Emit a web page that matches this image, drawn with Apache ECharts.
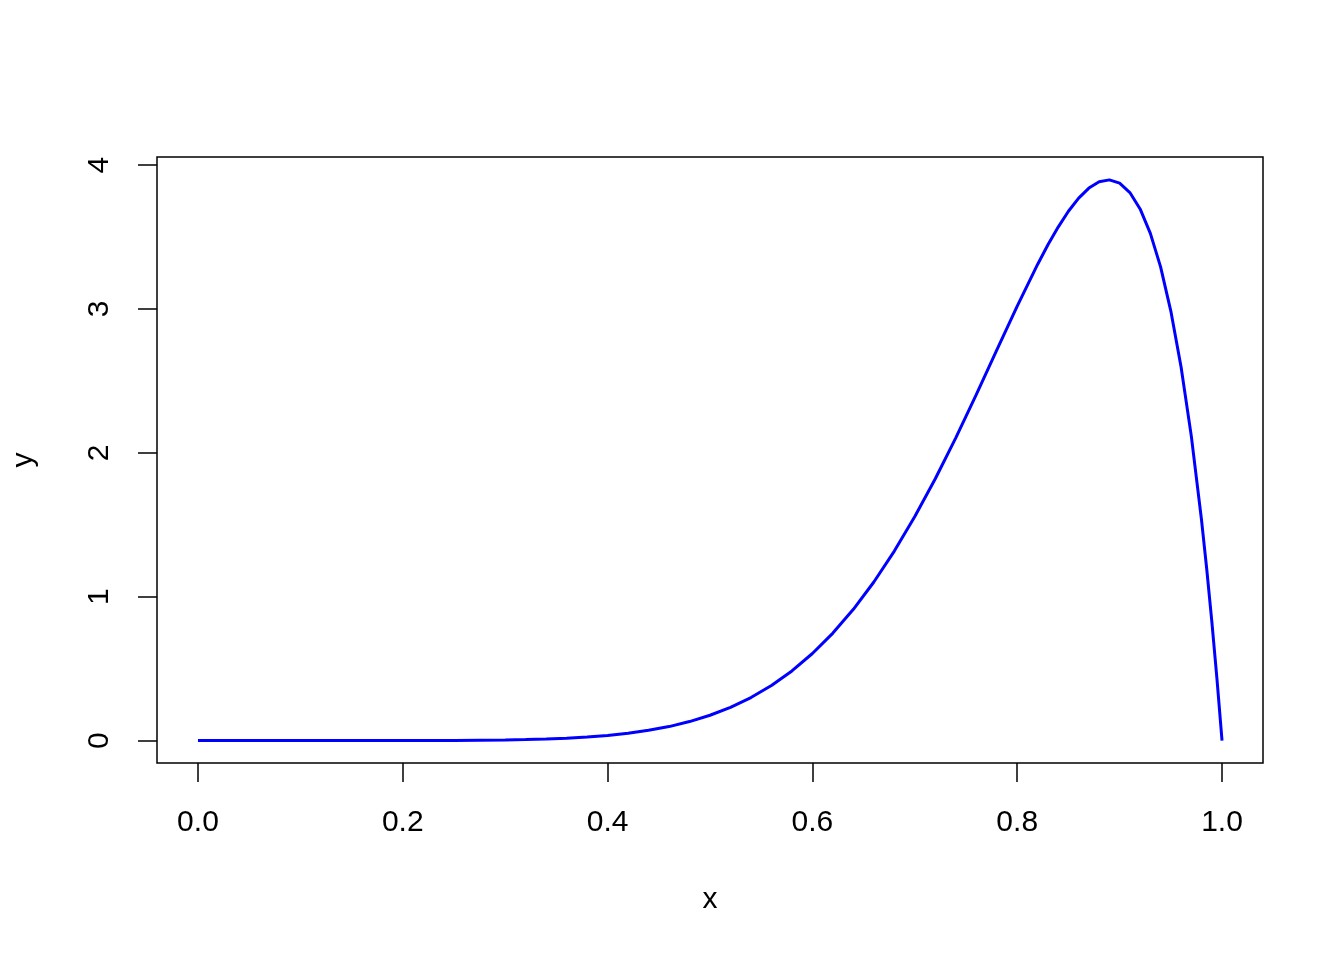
<!DOCTYPE html>
<html>
<head>
<meta charset="utf-8">
<script src="https://cdn.jsdelivr.net/npm/echarts@6/dist/echarts.min.js"></script>
<style>
  html, body { margin: 0; padding: 0; background: #fff; }
  #chart { width: 1344px; height: 960px; }
</style>
</head>
<body>
<div id="chart"></div>
<script>
// values
const xs = [0, 0.1, 0.2, 0.25, 0.3, 0.32, 0.34, 0.36, 0.38, 0.4, 0.42, 0.44, 0.46, 0.48,
  0.5, 0.52, 0.54, 0.56, 0.58, 0.6, 0.62, 0.64, 0.66, 0.68, 0.7, 0.72, 0.74, 0.76,
  0.78, 0.8, 0.82, 0.83, 0.84, 0.85, 0.86, 0.87, 0.88, 0.89, 0.9, 0.91, 0.92, 0.93,
  0.94, 0.95, 0.96, 0.97, 0.98, 0.985, 0.99, 0.995, 1.0];
const ys = [0, 0, 0.0002, 0.001, 0.004, 0.007, 0.011, 0.016, 0.024, 0.035, 0.051, 0.071, 0.097, 0.132,
  0.176, 0.231, 0.299, 0.383, 0.484, 0.605, 0.747, 0.912, 1.102, 1.317, 1.557, 1.82, 2.104, 2.404,
  2.713, 3.02, 3.311, 3.446, 3.569, 3.679, 3.77, 3.84, 3.884, 3.897, 3.874, 3.809, 3.695, 3.525,
  3.292, 2.985, 2.597, 2.116, 1.531, 1.196, 0.83, 0.432, 0];
const xTicks = [0, 0.2, 0.4, 0.6, 0.8, 1.0];
const yTicks = [0, 1, 2, 3, 4];

const font = "Liberation Sans, Arial, sans-serif";
const chart = echarts.init(document.getElementById("chart"));

chart.setOption({
  animation: false,
  backgroundColor: "#fff",
  grid: {
    left: 157,
    right: 81,
    top: 157,
    bottom: 197,
    show: true,
    borderColor: "#000",
    borderWidth: 1.5,
  },
  xAxis: {
    type: "value",
    min: -0.04,
    max: 1.04,
    name: "x",
    nameLocation: "middle",
    nameGap: 122,
    nameTextStyle: { color: "#000", fontSize: 30, fontFamily: font },
    axisLine: { show: false, onZero: false },
    splitLine: { show: false },
    axisTick: {
      show: true,
      inside: false,
      length: 19,
      customValues: xTicks,
      lineStyle: { color: "#000", width: 1.5 },
    },
    axisLabel: {
      customValues: xTicks,
      margin: 45,
      color: "#000",
      fontSize: 30,
      fontFamily: font,
      formatter: (v) => v.toFixed(1),
    },
  },
  yAxis: {
    type: "value",
    min: -0.156,
    max: 4.056,
    name: "y",
    nameLocation: "middle",
    nameGap: 118,
    nameRotate: 90,
    nameTextStyle: { color: "#000", fontSize: 30, fontFamily: font },
    axisLine: { show: false, onZero: false },
    splitLine: { show: false },
    axisTick: {
      show: true,
      inside: false,
      length: 19,
      customValues: yTicks,
      lineStyle: { color: "#000", width: 1.5 },
    },
    axisLabel: {
      customValues: yTicks,
      rotate: 90,
      margin: 42,
      color: "#000",
      fontSize: 30,
      fontFamily: font,
    },
  },
  series: [
    {
      type: "line",
      data: xs.map((x, i) => [x, ys[i]]),
      showSymbol: false,
      smooth: false,
      lineStyle: { color: "#0000ff", width: 3 },
    },
  ],
});
</script>
</body>
</html>
